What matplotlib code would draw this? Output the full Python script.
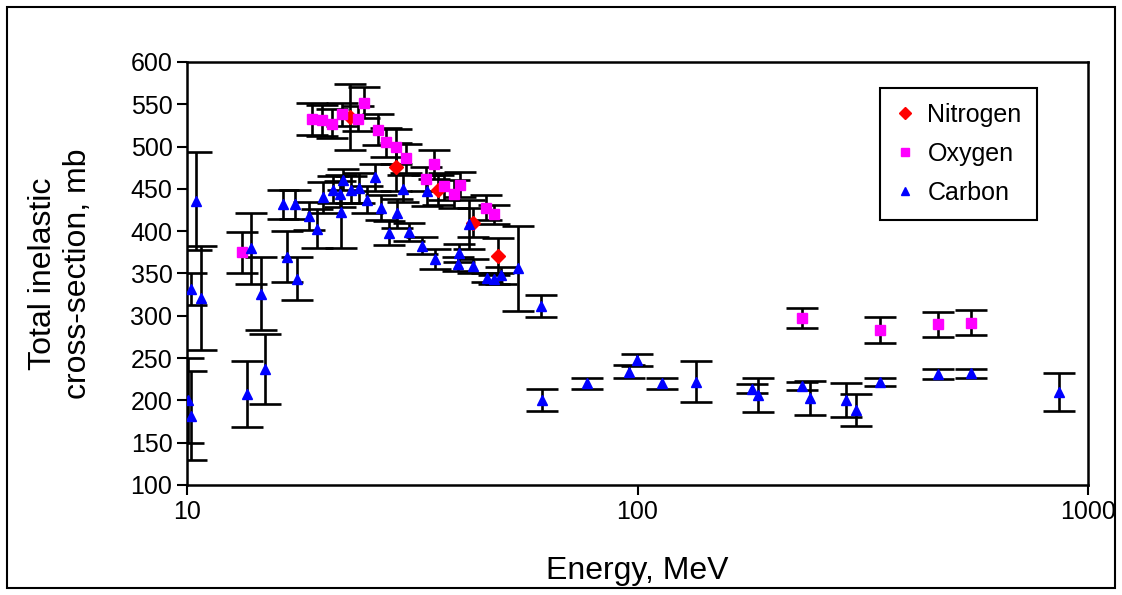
import matplotlib
matplotlib.use("Agg")
import matplotlib.pyplot as plt
from matplotlib.patches import Rectangle

plt.rcParams['font.family'] = ['Liberation Sans', 'DejaVu Sans']

# Nitrogen: energy (MeV), cross-section (mb), error
n_e = [22.96, 29.1, 36.0, 43.2, 49.1]
n_v = [535, 476, 449, 410, 371]
n_err = [39, 28, 18, 17, 21]

# Oxygen
o_e = [13.27, 18.97, 19.97, 20.98, 22.08, 23.97, 24.72, 26.55, 27.7, 29.1,
       30.6, 33.93, 35.34, 37.25, 39.15, 40.36, 46.1, 48.1,
       231.8, 346, 465.3, 549]
o_v = [375, 533, 531, 527, 538, 533, 552, 520, 505, 500,
       486, 462, 479, 453, 444, 455, 428, 420,
       297, 283, 290, 292]
o_err = [24, 19, 18, 17, 14, 15, 18, 18, 17, 21,
         17, 14, 17, 16, 16, 15, 15, 11,
         12, 15, 15, 15]

# Carbon
c_e = [10.03, 10.2, 10.2, 10.45, 10.72, 13.61, 13.87, 14.6, 14.9, 16.31,
       16.7, 17.4, 17.52, 18.69, 19.44, 20.0, 21.13, 21.86, 22.0, 22.24,
       23.16, 24.09, 25.13, 26.18, 27.0, 28.12, 29.2, 30.17, 31.15, 33.3,
       34.04, 35.46, 39.9, 40.1, 42.34, 43.2, 46.25, 48.1, 49.7, 54.4,
       60.98, 61.5, 77.3, 95.7, 99.7, 113.5, 134.6, 179.3, 185.4, 231.5,
       241.1, 290.7, 305, 345.6, 465, 549, 863.7]
c_v = [200, 332, 182, 436, 321, 208, 380, 326, 237, 432,
       370, 432, 344, 418, 403, 440, 449, 444, 423, 461,
       449, 451, 437, 464, 428, 398, 421, 450, 399, 383,
       448, 367, 361, 374, 408, 359, 345, 343, 348, 356,
       312, 200, 220, 234, 248, 220, 222, 214, 206, 217,
       203, 200, 189, 222, 231, 232, 210]
c_err = [50, 19, 53, 58, 61, 39, 42, 43, 41, 17,
         30, 17, 25, 17, 23, 18, 16, 15, 43, 12,
         16, 18, 16, 16, 15, 14, 17, 16, 11, 10,
         18, 12, 8, 11, 29, 8, 5, 5, 10, 50,
         13, 13, 7, 8, 7, 7, 24, 5, 20, 5,
         20, 20, 19, 5, 6, 5, 22]

fig = plt.figure(figsize=(11.22, 5.95), dpi=100)
ax = fig.add_axes([0.1667, 0.1849, 0.803, 0.7109])

eb = dict(fmt='none', ecolor='black', elinewidth=1.9, capsize=11.5, capthick=1.9, zorder=2)
ax.errorbar(c_e, c_v, yerr=c_err, **eb)
ax.errorbar(o_e, o_v, yerr=o_err, **eb)
ax.errorbar(n_e, n_v, yerr=n_err, **eb)

ax.plot(n_e, n_v, 'D', color='#FF0000', markersize=7, label='Nitrogen', zorder=3)
ax.plot(o_e, o_v, 's', color='#FF00FF', markersize=7, label='Oxygen', zorder=3)
ax.plot(c_e, c_v, '^', color='#0000FF', markersize=7.5, label='Carbon', zorder=3)

ax.set_xscale('log')
ax.set_xlim(10, 1000)
ax.set_ylim(100, 600)
ax.set_xticks([10, 100, 1000])
ax.set_xticklabels(['10', '100', '1000'])
ax.minorticks_off()
ax.set_yticks(range(100, 601, 50))
ax.tick_params(direction='out', length=7, width=1.5, labelsize=18)
for s in ax.spines.values():
    s.set_linewidth(1.8)

ax.set_xlabel('Energy, MeV', fontsize=23, labelpad=23)
ax.set_ylabel('Total inelastic\ncross-section, mb', fontsize=23, labelpad=27)

leg = ax.legend(loc='upper right', bbox_to_anchor=(0.943, 0.9385), borderaxespad=0,
                fontsize=18, fancybox=False, edgecolor='black', framealpha=1,
                handlelength=0.8, handletextpad=0.5, markerscale=0.85,
                borderpad=0.6, labelspacing=0.6)
leg.get_frame().set_linewidth(1.5)

fig.patches.append(Rectangle((7 / 1122, 7 / 595), 1108 / 1122, 581 / 595,
                             transform=fig.transFigure, fill=False,
                             edgecolor='black', linewidth=1.5))

fig.savefig('out.png', dpi=100)
